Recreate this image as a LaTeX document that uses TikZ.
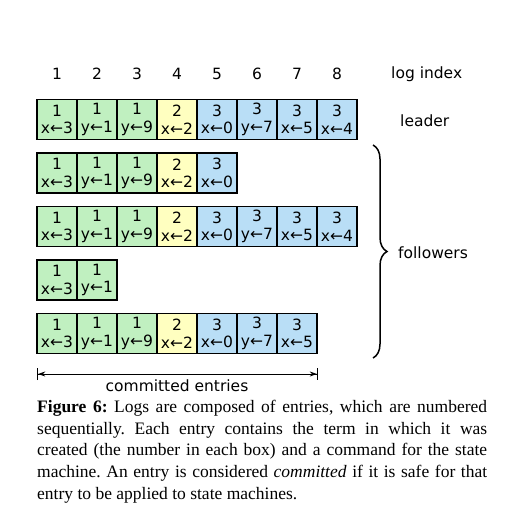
\documentclass[tikz,border=0pt]{standalone}
\usepackage{fontspec}
\setmainfont{Liberation Serif}
\newfontfamily\dejavu{DejaVu Sans}
\usetikzlibrary{decorations.pathreplacing,arrows.meta}
\definecolor{termone}{RGB}{192,240,192}
\definecolor{termtwo}{RGB}{255,255,192}
\definecolor{termthree}{RGB}{185,222,246}
\frenchspacing
\begin{document}
\begin{tikzpicture}[x=1pt,y=-1pt,
  entrybox/.style={draw, line width=1.5pt, minimum width=40pt, minimum height=40pt,
    inner sep=0pt, align=center, font=\dejavu\fontsize{15.5}{17.5}\selectfont},
  lbl/.style={font=\dejavu\fontsize{15.5}{18}\selectfont, inner sep=0pt},
  col1/.style={fill=termone}, col2/.style={fill=termtwo}, col3/.style={fill=termthree}]
\useasboundingbox (0,0) rectangle (524,516);
% log index
\foreach \i in {1,...,8}
  \node[lbl] (idx\i) at ({57+40*(\i-1)},74) {\i};
\node[lbl, anchor=west] (logindex) at (391,74) {log index};
% entries
\foreach \r/\n/\y in {1/8/119.5, 2/5/173, 3/8/226.5, 4/2/280, 5/7/333.5}{
  \foreach \i/\t/\c in {1/1/x←3, 2/1/y←1, 3/1/y←9, 4/2/x←2, 5/3/x←0, 6/3/y←7, 7/3/x←5, 8/3/x←4}{
    \ifnum\i>\n\else
      \node[entrybox, col\t] (e\r-\i) at ({57+40*(\i-1)},\y) {\t\\\c};
    \fi
  }
}
\node[lbl, anchor=west] (leader) at (400,121) {leader};
% brace
\coordinate (bt) at (373,145);
\coordinate (bb) at (373,358);
\draw[line width=1.5pt, decorate, decoration={brace, amplitude=14pt}] (bt) -- (bb);
\node[lbl, anchor=west] (followers) at (398,253) {followers};
% committed
\coordinate (cl) at (37,374);
\coordinate (cr) at (318,374);
\draw[line width=0.8pt, {Bar[width=12pt,line width=1.2pt]Stealth[length=7pt,width=5pt]}-{Stealth[length=7pt,width=5pt]Bar[width=12pt,line width=1.2pt]}] (cl) -- (cr);
\node[lbl] (committed) at (177,386) {committed entries};
% caption
\node[anchor=north west, text width=450pt, align=justify, inner sep=0pt,
  font=\fontsize{17.5}{21.7}\selectfont] (caption) at (37,400)
  {\textbf{Figure 6:} Logs are composed of entries, which are numbered\linebreak
   sequentially. Each entry contains the term in which it was\linebreak
   created (the number in each box) and a command for the state\linebreak
   machine. An entry is considered \emph{committed} if it is safe for that\linebreak
   entry to be applied to state machines.};
\end{tikzpicture}
\end{document}
